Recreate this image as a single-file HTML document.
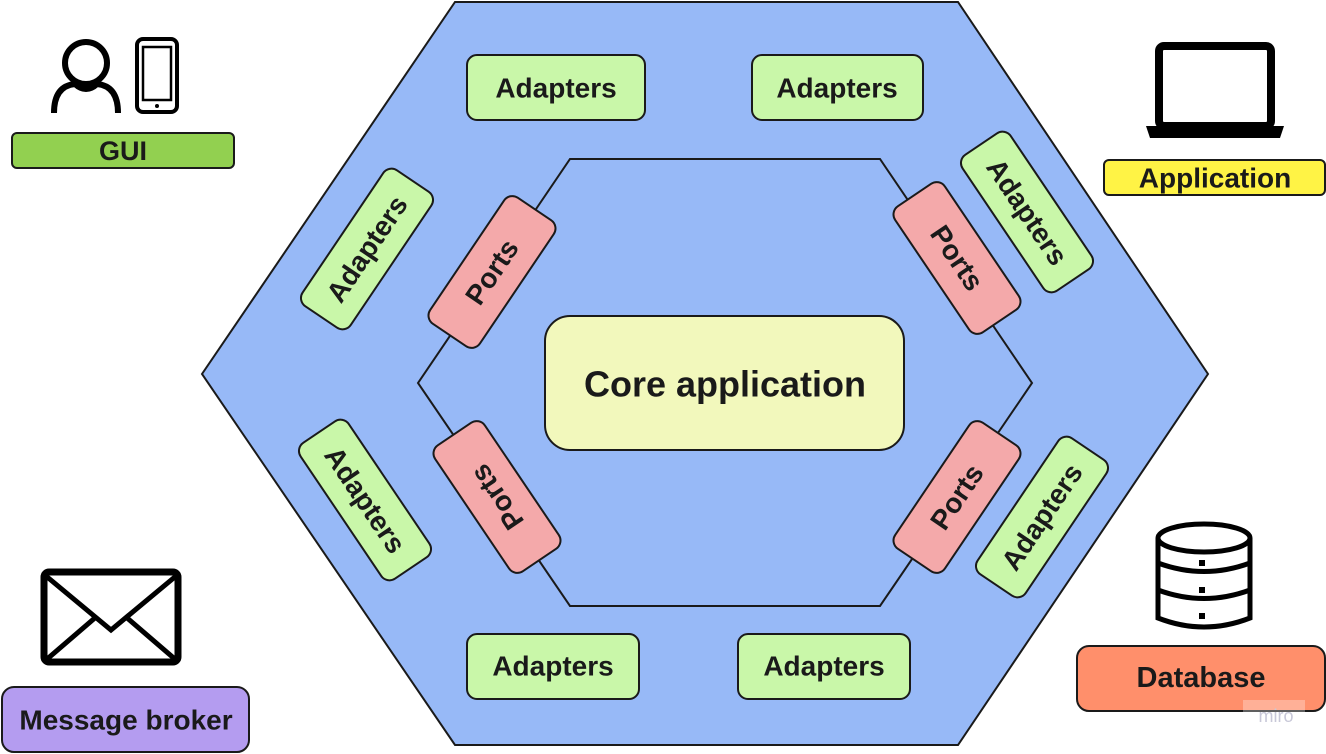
<!DOCTYPE html>
<html><head><meta charset="utf-8"><style>
html,body{margin:0;padding:0;background:#fff;}
svg{display:block;}
text{font-family:"Liberation Sans",sans-serif;font-weight:bold;fill:#1a1a1a;text-anchor:middle;dominant-baseline:central;}
</style></head><body>
<svg width="1326" height="754" viewBox="0 0 1326 754" xmlns="http://www.w3.org/2000/svg">
<polygon points="455,2 958,2 1208,374 958,745 455,745 202,374" fill="#97b9f7" stroke="#1a1a1a" stroke-width="2"/>
<polygon points="570,159 880,159 1032,383 880,606 570,606 418,383" fill="none" stroke="#1a1a1a" stroke-width="2"/>
<g stroke="#1a1a1a" stroke-width="2">
<rect x="467" y="55" width="178" height="65" rx="10" fill="#c9f7a9"/>
<rect x="752" y="55" width="171" height="65" rx="10" fill="#c9f7a9"/>
<rect x="467" y="634" width="172" height="65" rx="10" fill="#c9f7a9"/>
<rect x="738" y="634" width="172" height="65" rx="10" fill="#c9f7a9"/>
<rect x="545" y="316" width="359" height="134" rx="25" fill="#f2f8bc"/>
</g>
<text x="556" y="88" font-size="28">Adapters</text>
<text x="837" y="88" font-size="28">Adapters</text>
<text x="553" y="666" font-size="28">Adapters</text>
<text x="824" y="666" font-size="28">Adapters</text>
<text x="725" y="384" font-size="36">Core application</text>

<g transform="translate(367,249) rotate(-56)"><rect x="-82" y="-29" width="164" height="58" rx="10" fill="#c9f7a9" stroke="#1a1a1a" stroke-width="2"/><text font-size="28">Adapters</text></g>
<g transform="translate(365,500) rotate(56)"><rect x="-82" y="-29" width="164" height="58" rx="10" fill="#c9f7a9" stroke="#1a1a1a" stroke-width="2"/><text font-size="28">Adapters</text></g>
<g transform="translate(1027,212) rotate(56)"><rect x="-82" y="-29" width="164" height="58" rx="10" fill="#c9f7a9" stroke="#1a1a1a" stroke-width="2"/><text font-size="28">Adapters</text></g>
<g transform="translate(1042,517) rotate(-56)"><rect x="-82" y="-29" width="164" height="58" rx="10" fill="#c9f7a9" stroke="#1a1a1a" stroke-width="2"/><text font-size="28">Adapters</text></g>

<g transform="translate(492,272) rotate(-56)"><rect x="-76" y="-30" width="152" height="60" rx="10" fill="#f4a9aa" stroke="#1a1a1a" stroke-width="2"/><text font-size="28">Ports</text></g>
<g transform="translate(497,497) rotate(236)"><rect x="-76" y="-30" width="152" height="60" rx="10" fill="#f4a9aa" stroke="#1a1a1a" stroke-width="2"/><text font-size="28">Ports</text></g>
<g transform="translate(957,258) rotate(56)"><rect x="-76" y="-30" width="152" height="60" rx="10" fill="#f4a9aa" stroke="#1a1a1a" stroke-width="2"/><text font-size="28">Ports</text></g>
<g transform="translate(957,497) rotate(-56)"><rect x="-76" y="-30" width="152" height="60" rx="10" fill="#f4a9aa" stroke="#1a1a1a" stroke-width="2"/><text font-size="28">Ports</text></g>

<!-- GUI -->
<g fill="none" stroke="#000" stroke-width="6">
<circle cx="86" cy="63" r="21"/>
<path d="M54,113 Q54,86 75,84 Q86,94 97,84 Q118,86 118,113"/>
<rect x="137" y="39" width="40" height="73" rx="6" stroke-width="4"/>
<rect x="143" y="47" width="28" height="53" stroke-width="2.5"/>
</g>
<circle cx="157" cy="106" r="2" fill="#000"/>
<rect x="12" y="133" width="222" height="35" rx="5" fill="#92d050" stroke="#1a1a1a" stroke-width="2"/>
<text x="123" y="151" font-size="27">GUI</text>

<!-- Application -->
<rect x="1159" y="46" width="112" height="80" rx="5" fill="none" stroke="#000" stroke-width="8"/>
<path d="M1146,126 H1284 L1280,138 H1150 Z" fill="#000"/>
<rect x="1104" y="160" width="221" height="35" rx="5" fill="#fff345" stroke="#1a1a1a" stroke-width="2"/>
<text x="1215" y="178" font-size="28">Application</text>

<!-- Database -->
<g fill="none" stroke="#000" stroke-width="5">
<ellipse cx="1204" cy="538" rx="46" ry="14"/>
<path d="M1158,538 V618 Q1204,636 1250,618 V538"/>
<path d="M1158,563 Q1204,580 1250,563 M1158,590 Q1204,607 1250,590"/>
</g>
<g fill="#000">
<rect x="1199" y="560" width="6" height="6"/><rect x="1199" y="587" width="6" height="6"/><rect x="1199" y="613" width="6" height="6"/>
</g>
<rect x="1077" y="646" width="248" height="65" rx="12" fill="#ff8f6b" stroke="#1a1a1a" stroke-width="2"/>
<text x="1201" y="678" font-size="29">Database</text>
<rect x="1243" y="700" width="62" height="22" fill="#ffffff" opacity="0.3"/>
<text x="1276" y="716" font-size="18" style="fill:#c8c8d8;font-weight:normal">miro</text>

<!-- Message broker -->
<rect x="44" y="572" width="134" height="90" rx="5" fill="none" stroke="#000" stroke-width="7"/>
<path d="M46,576 L111,630 L176,576 M46,660 L96,617 M176,660 L126,617" fill="none" stroke="#000" stroke-width="5"/>
<rect x="2" y="687" width="247" height="65" rx="12" fill="#b49cf0" stroke="#1a1a1a" stroke-width="2"/>
<text x="126" y="720" font-size="28">Message broker</text>
</svg>
</body></html>
